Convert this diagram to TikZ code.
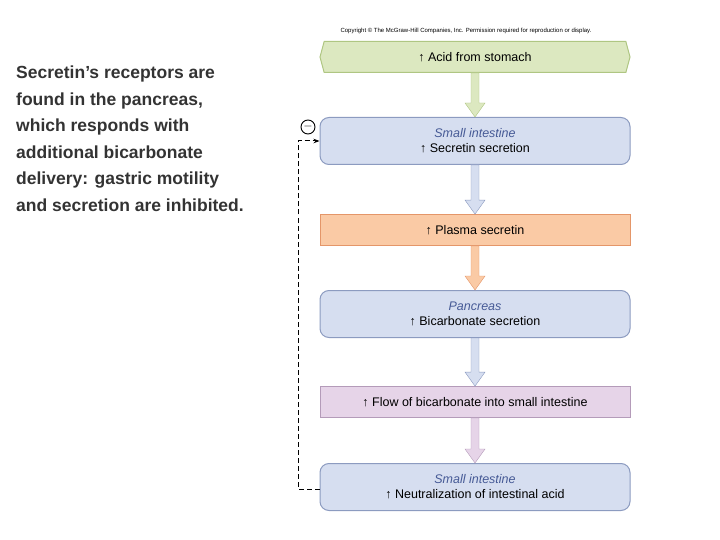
\documentclass[tikz,border=0pt]{standalone}
\usepackage{fontspec}
\setmainfont{Liberation Sans}
\usetikzlibrary{calc,shapes.symbols,arrows.meta}
\definecolor{grfill}{RGB}{220,232,192}
\definecolor{grline}{RGB}{175,198,130}
\definecolor{blfill}{RGB}{214,222,240}
\definecolor{blline}{RGB}{140,155,192}
\definecolor{orfill}{RGB}{250,202,165}
\definecolor{orline}{RGB}{228,150,105}
\definecolor{pufill}{RGB}{230,212,232}
\definecolor{puline}{RGB}{180,155,185}
\definecolor{organ}{RGB}{70,90,150}
\newcommand{\fatarrow}[4]{% from, to, fill, line
  \fill[#3,draw=#4] ($(#1.south)+(-4,0)$) -- ($(#2.north)+(-4,-14)$) -- ($(#2.north)+(-10,-14)$)
    -- (#2.north) -- ($(#2.north)+(10,-14)$) -- ($(#2.north)+(4,-14)$) -- ($(#1.south)+(4,0)$) -- cycle;}
\begin{document}
\begin{tikzpicture}[x=1pt,y=-1pt,
  every node/.style={font=\fontsize{12.5}{15}\selectfont,align=center},
  roundbox/.style={rounded corners=9pt,minimum width=310pt,minimum height=47pt,draw=blline,fill=blfill,line width=1pt},
  flatbox/.style={rectangle,minimum width=310pt,minimum height=31pt,line width=0.8pt}]
  \useasboundingbox (0,0) rectangle (720,540);
  \node[anchor=north west,align=left,inner sep=0pt,font=\bfseries\fontsize{17.5}{26.5}\selectfont,color=black!80] (note) at (16,66)
    {Secretin’s receptors are\\found in the pancreas,\\which responds with\\additional bicarbonate\\delivery: gastric motility\\and secretion are inhibited.};
  \node[font=\fontsize{6}{7}\selectfont] (copy) at (466,31) {Copyright © The McGraw-Hill Companies, Inc. Permission required for reproduction or display.};

  \node[draw=grline,fill=grfill,line width=1pt,minimum height=31pt,minimum width=310pt,
    signal,signal to=east and west,signal pointer angle=150] (acid) at (475,57) {↑ Acid from stomach};
  \node[roundbox] (si) at (475,141) {{\itshape\color{organ}Small intestine}\\↑ Secretin secretion};
  \node[flatbox,draw=orline,fill=orfill] (plasma) at (475,230) {↑ Plasma secretin};
  \node[roundbox] (panc) at (475,314) {{\itshape\color{organ}Pancreas}\\↑ Bicarbonate secretion};
  \node[flatbox,draw=puline,fill=pufill] (flow) at (475,402) {↑ Flow of bicarbonate into small intestine};
  \node[roundbox] (neut) at (475,487) {{\itshape\color{organ}Small intestine}\\↑ Neutralization of intestinal acid};

  \fatarrow{acid}{si}{grfill}{grline}
  \fatarrow{si}{plasma}{blfill}{blline}
  \fatarrow{plasma}{panc}{orfill}{orline}
  \fatarrow{panc}{flow}{blfill}{blline}
  \fatarrow{flow}{neut}{pufill}{puline}

  \coordinate (fbot) at (298,489);
  \coordinate (ftop) at (298,141);
  \draw[dash pattern=on 5pt off 3pt,line width=1pt,-{Stealth[length=6pt]}] (neut.west |- fbot) -- (fbot) -- (ftop) -- (si.west);
  \node[circle,draw,line width=0.9pt,inner sep=0pt,minimum size=14pt] (minus) at (308,127) {$-$};
\end{tikzpicture}
\end{document}
